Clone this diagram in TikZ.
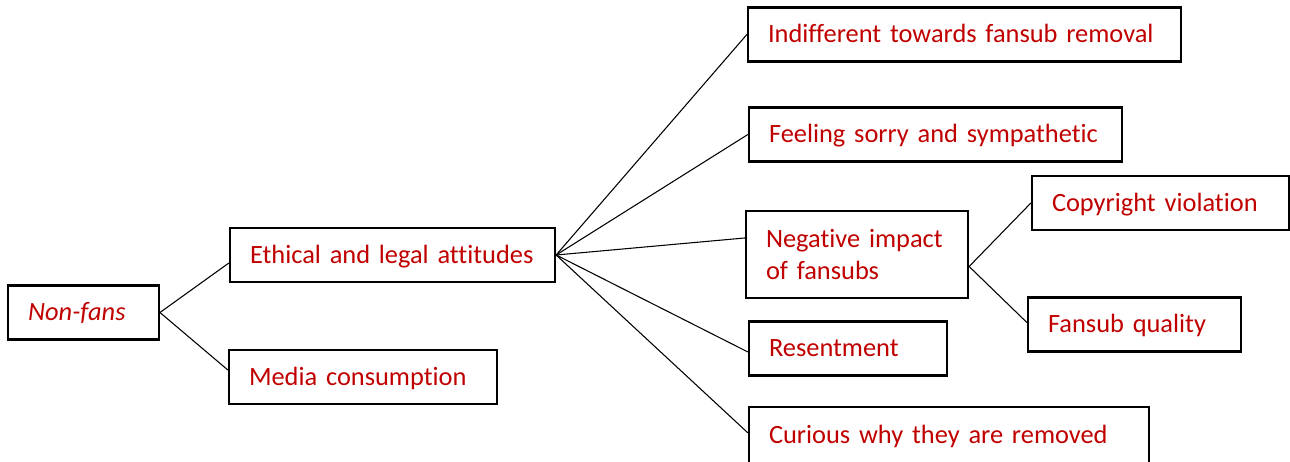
\documentclass[tikz,border=0pt]{standalone}
\usepackage{fontspec}
\setmainfont{Carlito}[Ligatures=NoCommon]
\definecolor{rosso}{HTML}{C00000}
\begin{document}
\begin{tikzpicture}[
	x=0.75pt, y=-0.75pt,
	box/.style={rectangle, draw=black, line width=1.7pt,
		text=rosso, align=left, inner xsep=15pt, inner ysep=0pt,
		minimum height=40.5pt, text height=16pt, text depth=4pt,
		font=\fontsize{19.8}{23.5}\selectfont},
	ramo/.style={line width=0.8pt, black},
	]
	\useasboundingbox (0,0) rectangle (1290,461);
	\clip (0,0) rectangle (1290,461);
	
	\node[box, text width=83pt] (nf) at (83.5,312.5) {\textit{Non-fans}};
	
	\node[box, text width=213.75pt] (eth) at (392.5,255) {Ethical and legal attitudes};
	\node[box, text width=171pt] (med) at (363,377) {Media consumption};
	
	\node[box, text width=294.75pt] (ind) at (964.5,34.5) {Indifferent towards fansub removal};
	\node[box, text width=249.75pt] (fee) at (935.5,134.5) {Feeling sorry and sympathetic};
	\node[box, text width=136.5pt, minimum height=65pt,
	text height={}, text depth={}] (neg) at (857,254.5)
	{Negative impact\\of fansubs};
	\node[box, text width=118.5pt] (res) at (848,348.5) {Resentment};
	\node[box, text width=270pt, minimum height=42.5pt] (cur) at (949,435.5)
	{Curious why they are removed};
	
	\node[box, text width=162.75pt] (cop) at (1160.5,203) {Copyright violation};
	\node[box, text width=129.75pt] (qua) at (1134.5,324.5) {Fansub quality};
	
	\draw[ramo] (nf.east) -- ([yshift=-6pt]eth.west);
	\draw[ramo] (nf.east) -- ([yshift=5.25pt]med.west);
	
	\draw[ramo] (eth.east) -- (ind.west);
	\draw[ramo] (eth.east) -- (fee.west);
	\draw[ramo] (eth.east) -- ([yshift=12.4pt]neg.west);
	\draw[ramo] (eth.east) -- ([yshift=-2.6pt]res.west);
	\draw[ramo] (eth.east) -- ([yshift=2pt]cur.west);
	
	\draw[ramo] ([yshift=-9pt]neg.east) -- (cop.west);
	\draw[ramo] ([yshift=-9pt]neg.east) -- ([yshift=1.5pt]qua.west);
\end{tikzpicture}
\end{document}
